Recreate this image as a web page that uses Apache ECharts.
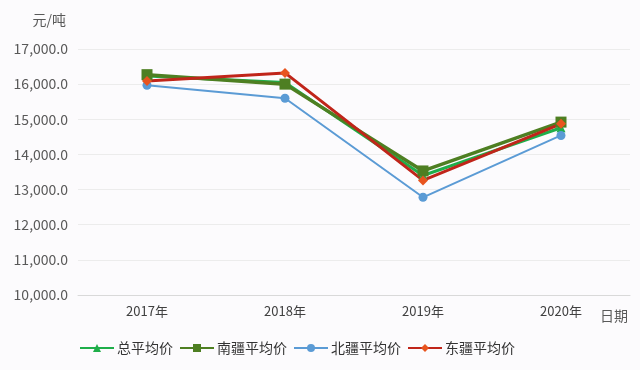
<!DOCTYPE html>
<html><head><meta charset="utf-8">
<script src="https://cdn.jsdelivr.net/npm/echarts@6/dist/echarts.min.js"></script>
<style>html,body{margin:0;padding:0;background:#fcfbfd}#c{width:640px;height:370px}</style>
</head><body><div id="c"></div>
<script>
const categories = ['2017年','2018年','2019年','2020年'];
const seriesNames = ['总平均价','南疆平均价','北疆平均价','东疆平均价'];
const totalAvg = [16230, 16050, 13400, 14760];
const southAvg = [16270, 16000, 13530, 14920];
const northAvg = [15970, 15600, 12780, 14540];
const eastAvg = [16090, 16320, 13260, 14870];

const font = '"Noto Sans CJK SC", "Noto Sans", sans-serif';
const chart = echarts.init(document.getElementById('c'));
function mk(name, data, color, symbol, size, width, markerColor){
  return {name, type:'line', data, symbol, symbolSize:size, showSymbol:true,
    lineStyle:{color, width}, itemStyle:{color: markerColor || color, borderWidth:0}, z: 2};
}
chart.setOption({
  backgroundColor:'#fcfbfd',
  animation:false,
  textStyle:{fontFamily:font},
  grid:{left:78, right:10, top:49, bottom:75, containLabel:false, outerBoundsMode:'none'},
  legend:{bottom:10, left:74, itemGap:6, itemWidth:34, itemHeight:10,
    textStyle:{fontSize:14, color:'#333333', fontFamily:font, padding:[0,0,0,-2]},
    data:seriesNames},
  xAxis:{type:'category', data:categories, name:'日期', nameLocation:'end', nameGap:10,
    nameTextStyle:{fontSize:14, color:'#595959', verticalAlign:'top', padding:[14,0,0,-40]},
    axisLine:{lineStyle:{color:'#d9d9d9'}}, axisTick:{show:false},
    axisLabel:{fontSize:13, color:'#404040', margin:10}},
  yAxis:{type:'value', min:10000, max:17000, interval:1000, name:'元/吨',
    nameLocation:'end', nameGap:22,
    nameTextStyle:{fontSize:14, color:'#595959', align:'right', padding:[0,12,0,0]},
    axisLine:{show:false}, axisTick:{show:false},
    splitLine:{lineStyle:{color:'#ececec'}},
    axisLabel:{fontSize:14, color:'#595959', margin:10,
      formatter:v=>v.toLocaleString('en-US',{minimumFractionDigits:1, maximumFractionDigits:1})}},
  series:[
    mk('总平均价', totalAvg, '#1fae4a', 'triangle', 9, 3),
    mk('南疆平均价', southAvg, '#4e7f22', 'rect', 11, 3.5),
    mk('北疆平均价', northAvg, '#5b9bd5', 'circle', 9, 2),
    mk('东疆平均价', eastAvg, '#c0251a', 'diamond', 10, 3, '#e8541e')
  ]
});
</script></body></html>
